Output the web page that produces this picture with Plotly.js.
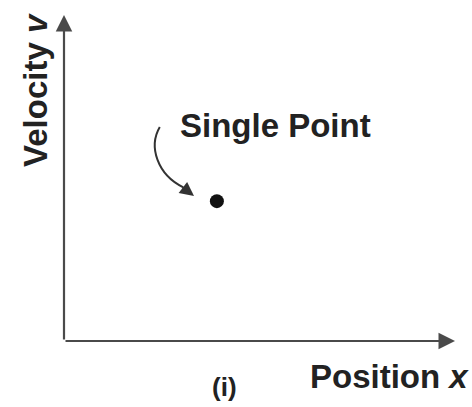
<!DOCTYPE html>
<html>
<head>
<meta charset="utf-8">
<script src="https://cdn.plot.ly/plotly-3.0.1.min.js"></script>
<style>html,body{margin:0;padding:0;background:#fff;}#chart{width:472px;height:407px;}</style>
</head>
<body>
<div id="chart"></div>
<script>
// Data
var pointX = [3.91];
var pointY = [4.29];
var xLabel = "Position <i>x</i>";
var yLabel = "Velocity <i>v</i>";
var pointLabel = "Single Point";
var panelLabel = "(i)";

var FONT = "Liberation Sans, Arial, Helvetica, sans-serif";
var INK = "#222222";
var AXIS = "#4a4a4a";

var trace = {
  x: pointX, y: pointY, type: "scatter", mode: "markers",
  marker: {color: "#111111", size: 14},
  hoverinfo: "skip", cliponaxis: false
};

var layout = {
  width: 472, height: 407,
  margin: {l: 64, r: 17, t: 15, b: 66},
  paper_bgcolor: "#ffffff", plot_bgcolor: "#ffffff",
  showlegend: false,
  xaxis: {range: [0, 10], showgrid: false, zeroline: false, showline: false, showticklabels: false, ticks: "", fixedrange: true},
  yaxis: {range: [0, 10], showgrid: false, zeroline: false, showline: false, showticklabels: false, ticks: "", fixedrange: true},
  shapes: [
    {type: "path", xref: "x", yref: "y",
     path: "M 2.45,6.564 C 2.15,5.95 2.40,5.10 3.04,4.72",
     line: {color: "#333333", width: 2}}
  ],
  annotations: [
    // x axis arrow
    {x: 10, y: 0, ax: 0, ay: 0, xref: "x", yref: "y", axref: "x", ayref: "y", text: "",
     showarrow: true, arrowhead: 2, arrowsize: 1.5, arrowwidth: 2.2, arrowcolor: AXIS, standoff: 0},
    // y axis arrow
    {x: 0, y: 10, ax: 0, ay: 0, xref: "x", yref: "y", axref: "x", ayref: "y", text: "",
     showarrow: true, arrowhead: 2, arrowsize: 1.5, arrowwidth: 2.2, arrowcolor: AXIS, standoff: 0},
    // curved pointer head
    {x: 3.325, y: 4.448, ax: 2.99, ay: 4.755, xref: "x", yref: "y", axref: "x", ayref: "y", text: "",
     showarrow: true, arrowhead: 2, arrowsize: 1.4, arrowwidth: 2, arrowcolor: "#333333", standoff: 0},
    {x: 5.42, y: 6.6, xref: "x", yref: "y", text: "<b>" + pointLabel + "</b>", showarrow: false,
     xanchor: "center", yanchor: "middle", font: {family: FONT, size: 33, color: INK}},
    {x: -0.0716, y: 0.77, xref: "paper", yref: "paper", text: "<b>" + yLabel + "</b>", showarrow: false, textangle: -90,
     xanchor: "center", yanchor: "middle", font: {family: FONT, size: 33, color: INK}},
    {x: 0.8325, y: -0.110, xref: "paper", yref: "paper", text: "<b>" + xLabel + "</b>", showarrow: false,
     xanchor: "center", yanchor: "middle", font: {family: FONT, size: 33, color: INK}},
    {x: 0.41, y: -0.14, xref: "paper", yref: "paper", text: "<b>" + panelLabel + "</b>", showarrow: false,
     xanchor: "center", yanchor: "middle", font: {family: FONT, size: 26, color: INK}}
  ]
};

Plotly.newPlot("chart", [trace], layout, {displayModeBar: false, staticPlot: true});
</script>
</body>
</html>
